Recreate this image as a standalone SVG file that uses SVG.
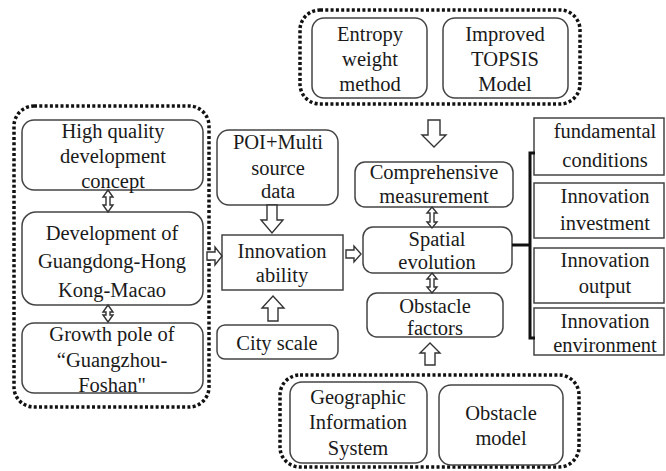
<svg xmlns="http://www.w3.org/2000/svg" width="666" height="471" viewBox="0 0 666 471">
<style>
  .box{fill:#fff;stroke:#444;stroke-width:1.5}
  .grp{fill:none;stroke:#111;stroke-width:3.5;stroke-dasharray:3 2.3}
  .t{font-family:"Liberation Serif","Times New Roman",serif;font-size:20.5px;fill:#1a1a1a;text-anchor:middle}
  .ar{fill:#fff;stroke:#333;stroke-width:1.4;stroke-linejoin:miter}
  .br{fill:none;stroke:#111;stroke-width:3}
</style>
<rect width="666" height="471" fill="#fff"/>

<g id="group-left"><rect class="grp" x="14" y="106" width="195" height="301" rx="20"/></g>
<g id="group-top"><rect class="grp" x="300" y="10" width="280" height="94" rx="20"/></g>
<g id="group-bottom"><rect class="grp" x="280" y="375" width="299" height="92" rx="20"/></g>

<g id="n-highquality"><rect class="box" x="22" y="120" width="181" height="70" rx="12"/>
<text class="t" x="113" y="138">High quality</text><text class="t" x="113" y="163">development</text><text class="t" x="113" y="188">concept</text></g>
<g id="n-gba"><rect class="box" x="22" y="212" width="181" height="93" rx="14"/>
<text class="t" x="112" y="240">Development of</text><text class="t" x="112" y="268">Guangdong-Hong</text><text class="t" x="112" y="297">Kong-Macao</text></g>
<g id="n-growth"><rect class="box" x="22" y="323" width="181" height="70" rx="12"/>
<text class="t" x="112" y="341">Growth pole of</text><text class="t" x="112" y="367">“Guangzhou-</text><text class="t" x="112" y="392">Foshan"</text></g>

<g id="n-poi"><rect class="box" x="217" y="130" width="121" height="75" rx="12"/>
<text class="t" x="278" y="149">POI+Multi</text><text class="t" x="278" y="175">source</text><text class="t" x="278" y="198">data</text></g>
<g id="n-innov"><rect class="box" x="222" y="235" width="121" height="55"/>
<text class="t" x="282" y="258">Innovation</text><text class="t" x="282" y="282">ability</text></g>
<g id="n-city"><rect class="box" x="217" y="325" width="121" height="34" rx="8"/>
<text class="t" x="277" y="350">City scale</text></g>

<g id="n-entropy"><rect class="box" x="312" y="18" width="115" height="80" rx="12"/>
<text class="t" x="370" y="41">Entropy</text><text class="t" x="370" y="66">weight</text><text class="t" x="370" y="91">method</text></g>
<g id="n-topsis"><rect class="box" x="443" y="18" width="125" height="80" rx="12"/>
<text class="t" x="505" y="41">Improved</text><text class="t" x="505" y="66">TOPSIS</text><text class="t" x="505" y="91">Model</text></g>

<g id="n-comp"><rect class="box" x="355" y="162" width="158" height="45" rx="10"/>
<text class="t" x="434" y="179">Comprehensive</text><text class="t" x="434" y="203">measurement</text></g>
<g id="n-spatial"><rect class="box" x="363" y="227" width="149" height="46" rx="10"/>
<text class="t" x="437" y="246">Spatial</text><text class="t" x="437" y="269">evolution</text></g>
<g id="n-obstacle"><rect class="box" x="367" y="293" width="136" height="44" rx="10"/>
<text class="t" x="435" y="313">Obstacle</text><text class="t" x="435" y="335">factors</text></g>

<g id="n-gis"><rect class="box" x="290" y="382" width="137" height="81" rx="12"/>
<text class="t" x="358" y="404">Geographic</text><text class="t" x="358" y="429">Information</text><text class="t" x="358" y="455">System</text></g>
<g id="n-obsmodel"><rect class="box" x="439" y="385" width="124" height="80" rx="12"/>
<text class="t" x="501" y="420">Obstacle</text><text class="t" x="501" y="445">model</text></g>

<g id="n-fund"><rect class="box" x="534" y="118" width="130" height="57"/>
<text class="t" x="605" y="138">fundamental</text><text class="t" x="605" y="167">conditions</text></g>
<g id="n-invest"><rect class="box" x="534" y="183" width="130" height="55"/>
<text class="t" x="605" y="203">Innovation</text><text class="t" x="605" y="230">investment</text></g>
<g id="n-output"><rect class="box" x="534" y="248" width="130" height="55"/>
<text class="t" x="605" y="267">Innovation</text><text class="t" x="605" y="293">output</text></g>
<g id="n-env"><rect class="box" x="534" y="308" width="130" height="47"/>
<text class="t" x="605" y="328">Innovation</text><text class="t" x="605" y="352">environment</text></g>

<g id="connectors">
  <path class="ar" d="M108,190 L113,197 L110,197 L110,205 L113,205 L108,212 L103,205 L106,205 L106,197 L103,197 Z"/>
  <path class="ar" d="M108,305 L113,312 L110,312 L110,315 L113,315 L108,322 L103,315 L106,315 L106,312 L103,312 Z"/>
  <path class="ar" d="M432,207 L437,213 L434,213 L434,222 L437,222 L432,228 L427,222 L430,222 L430,213 L427,213 Z"/>
  <path class="ar" d="M432,273 L437,279 L434,279 L434,287 L437,287 L432,293 L427,287 L430,287 L430,279 L427,279 Z"/>
  <path class="ar" d="M267,205 L277,205 L277,220 L283,220 L272,233 L261,220 L267,220 Z"/>
  <path class="ar" d="M268,321 L278,321 L278,308 L284,308 L273,296 L262,308 L268,308 Z"/>
  <path class="ar" d="M207,252 L215,252 L215,247 L222,256 L215,265 L215,260 L207,260 Z"/>
  <path class="ar" d="M346,250 L354,250 L354,246 L361,254 L354,262 L354,258 L346,258 Z"/>
  <path class="ar" d="M428,120 L440,120 L440,135 L446,135 L434,147 L422,135 L428,135 Z"/>
  <path class="ar" d="M425,365 L435,365 L435,353 L440,353 L430,343 L420,353 L425,353 Z"/>
  <path class="br" d="M512,245 L530,245"/>
  <path class="br" d="M535,153 L530,153 L530,338 L535,338"/>
</g>
</svg>
